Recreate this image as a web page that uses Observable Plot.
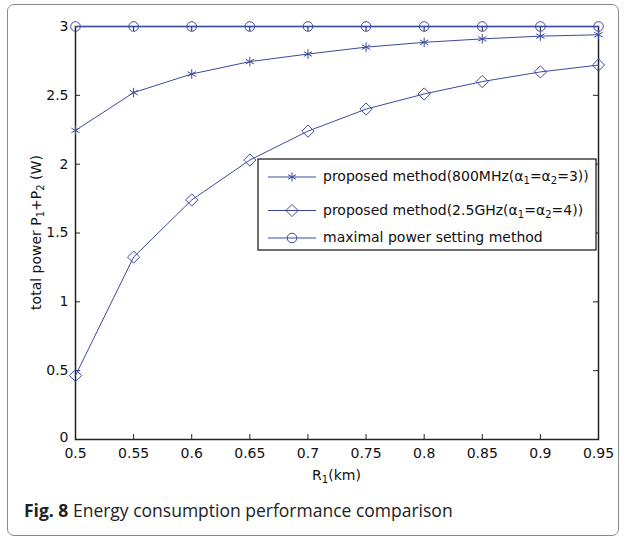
<!DOCTYPE html>
<html><head><meta charset="utf-8">
<script src="https://cdn.jsdelivr.net/npm/d3@7"></script>
<script src="https://cdn.jsdelivr.net/npm/@observablehq/plot@0.6"></script>
<style>
body{margin:0;background:#fff;}
#wrap{position:relative;width:626px;height:540px;overflow:hidden;background:#fff;}
#border{position:absolute;left:7px;top:4px;width:612px;height:532px;border:1.5px solid #8a8a8a;border-radius:7px;box-sizing:border-box;}
#chart{position:absolute;left:0;top:0;}
#caption{position:absolute;left:24px;top:498px;font-family:"Open Sans";font-size:17.5px;color:#222;white-space:nowrap;}
#caption b{font-weight:700;}
</style></head><body>
<div id="wrap"><div id="border"></div><div id="chart"></div><div id="caption"><b>Fig. 8</b> Energy consumption performance comparison</div></div>
<script>
const R1 = [0.5, 0.55, 0.6, 0.65, 0.7, 0.75, 0.8, 0.85, 0.9, 0.95];
const proposed800 = [2.245, 2.52, 2.655, 2.745, 2.80, 2.85, 2.885, 2.91, 2.93, 2.94];
const proposed25 = [0.465, 1.325, 1.74, 2.03, 2.24, 2.40, 2.51, 2.60, 2.67, 2.72];
const maximal = [3, 3, 3, 3, 3, 3, 3, 3, 3, 3];
const xTicks = [0.5, 0.55, 0.6, 0.65, 0.7, 0.75, 0.8, 0.85, 0.9, 0.95];
const xTickLabels = ["0.5", "0.55", "0.6", "0.65", "0.7", "0.75", "0.8", "0.85", "0.9", "0.95"];
const yTicks = [0, 0.5, 1, 1.5, 2, 2.5, 3];
const yTickLabels = ["0", "0.5", "1", "1.5", "2", "2.5", "3"];
const seriesSymbols = ["asterisk", "diamond2", "circle"];

const color = "#3b4a9f";
const W = 626, H = 490, mL = 75, mR = 28, mT = 26, mB = 51;
const iw = W - mL - mR, ih = H - mT - mB;

const seriesValues = [proposed800, proposed25, maximal];
const rows = seriesValues.map((vals, s) => R1.map((x, i) => ({x, y: vals[i], s})));

const lineMarks = [];
rows.forEach((data, s) => {
  lineMarks.push(Plot.line(data, {x: "x", y: "y", stroke: color, strokeWidth: 1}));
});
const sizes = [4.5, 5.5, 4.8];
rows.forEach((data, s) => {
  lineMarks.push(Plot.dot(data, {x: "x", y: "y", symbol: seriesSymbols[s], r: sizes[s], stroke: color, fill: "none", strokeWidth: 1}));
});

const plot = Plot.plot({
  width: W, height: H,
  marginLeft: mL, marginRight: mR, marginTop: mT, marginBottom: mB,
  x: {domain: [0.5, 0.95], axis: null},
  y: {domain: [0, 3], axis: null},
  style: {fontFamily: "DejaVu Sans", fontSize: "14px", color: "#111", background: "transparent", overflow: "visible"},
  marks: [
    Plot.ruleX(xTicks, {x: d => d, insetTop: ih - 5, stroke: "#222"}),
    Plot.ruleX(xTicks, {x: d => d, insetBottom: ih - 5, stroke: "#222"}),
    Plot.ruleY(yTicks, {y: d => d, insetLeft: iw - 5, stroke: "#222"}),
    Plot.ruleY(yTicks, {y: d => d, insetRight: iw - 5, stroke: "#222"}),
    Plot.text(xTicks, {x: d => d, text: (d, i) => xTickLabels[i], frameAnchor: "bottom", dy: 18, fontSize: 14, fill: "#111"}),
    Plot.text(yTicks.slice(1), {y: d => d, text: (d, i) => yTickLabels[i + 1], frameAnchor: "left", dx: -7, textAnchor: "end", fontSize: 14, fill: "#111"}),
    Plot.text(yTicks.slice(0, 1), {y: d => d, text: (d, i) => yTickLabels[i], frameAnchor: "left", dx: -7, dy: -2, textAnchor: "end", fontSize: 14, fill: "#111"}),
    Plot.frame({stroke: "#222", strokeWidth: 1.5}),
    ...lineMarks
  ]
});
document.getElementById("chart").appendChild(plot);

const svg = d3.select(plot);
const font = "DejaVu Sans";

// y label
const yl = svg.append("text")
  .attr("transform", `translate(37,${mT + ih / 2}) rotate(-90)`)
  .attr("text-anchor", "middle").attr("dominant-baseline", "middle")
  .attr("font-family", font).attr("font-size", 14).attr("fill", "#111");
yl.append("tspan").text("total power P");
yl.append("tspan").attr("dy", 4).attr("font-size", 10).text("1");
yl.append("tspan").attr("dy", -4).text("+P");
yl.append("tspan").attr("dy", 4).attr("font-size", 10).text("2");
yl.append("tspan").attr("dy", -4).text(" (W)");

// x label
const xl = svg.append("text")
  .attr("x", mL + iw / 2).attr("y", 476)
  .attr("text-anchor", "middle").attr("dominant-baseline", "middle")
  .attr("font-family", font).attr("font-size", 14).attr("fill", "#111");
xl.append("tspan").text("R");
xl.append("tspan").attr("dy", 4).attr("font-size", 10).text("1");
xl.append("tspan").attr("dy", -4).text("(km)");

// asterisk symbol for the legend sample (same shape as the plotted markers)
const asterisk = {
  draw(context, size) {
    const r = Math.sqrt(size / Math.PI), rx = r * Math.sqrt(3) / 2, ry = r / 2;
    context.moveTo(0, r); context.lineTo(0, -r);
    context.moveTo(-rx, -ry); context.lineTo(rx, ry);
    context.moveTo(-rx, ry); context.lineTo(rx, -ry);
  }
};

// legend
const lg = svg.append("g").attr("text-anchor", "start");
lg.append("rect").attr("x", 258).attr("y", 159).attr("width", 338).attr("height", 91)
  .attr("fill", "white").attr("stroke", "#111").attr("stroke-width", 1.2);
const entryY = [177, 210.5, 238];
const legendParts = [
  [["proposed method(800MHz(α"], ["1", 1], ["=α"], ["2", 1], ["=3))"]],
  [["proposed method(2.5GHz(α"], ["1", 1], ["=α"], ["2", 1], ["=4))"]],
  [["maximal power setting method"]]
];
legendParts.forEach((parts, i) => {
  const y = entryY[i];
  lg.append("line").attr("x1", 268).attr("x2", 316).attr("y1", y).attr("y2", y).attr("stroke", color);
  const symName = seriesSymbols[i];
  const sym = symName === "asterisk" ? asterisk : symName === "diamond2" ? d3.symbolDiamond2 : d3.symbolCircle;
  const r = sizes[i];
  lg.append("path").attr("transform", `translate(292,${y})`)
    .attr("d", d3.symbol(sym, Math.PI * r * r)())
    .attr("fill", "none").attr("stroke", color);
  const t = lg.append("text").attr("x", 323).attr("y", y)
    .attr("text-anchor", "start")
    .attr("dominant-baseline", "middle")
    .attr("font-family", font).attr("font-size", 14).attr("fill", "#111");
  let sub = false;
  parts.forEach(([s, isSub]) => {
    const ts = t.append("tspan").text(s);
    if (isSub && !sub) { ts.attr("dy", 4).attr("font-size", 10); sub = true; }
    else if (isSub) { ts.attr("font-size", 10); }
    else if (sub) { ts.attr("dy", -4); sub = false; }
  });
});
</script>
</body></html>
